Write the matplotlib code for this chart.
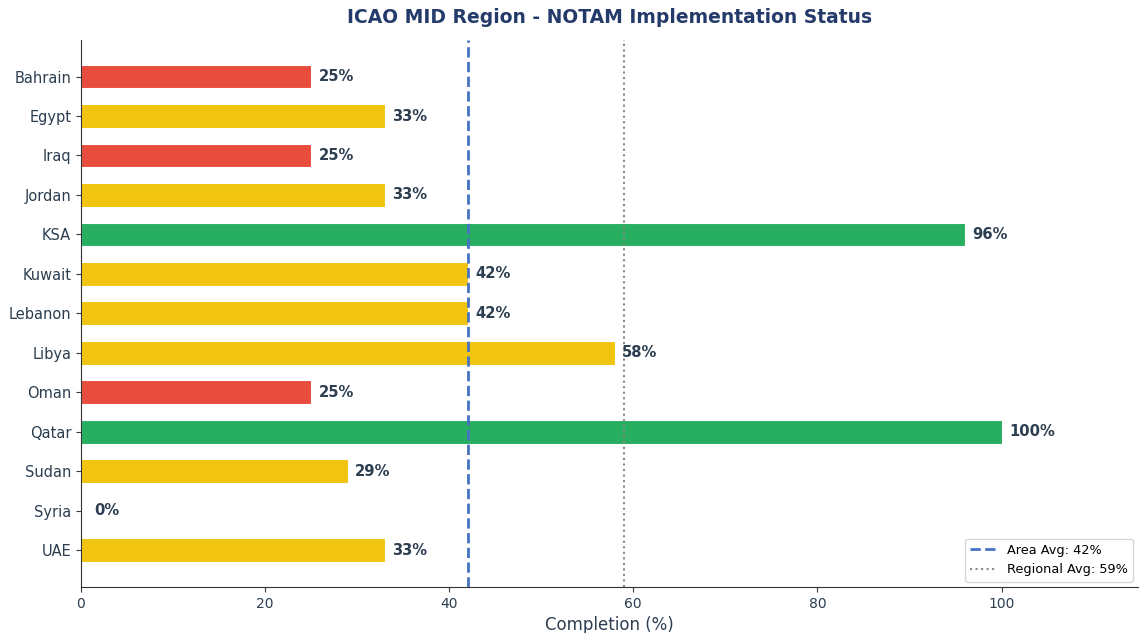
import matplotlib
matplotlib.use('Agg')
import matplotlib.pyplot as plt

countries = ['Bahrain', 'Egypt', 'Iraq', 'Jordan', 'KSA', 'Kuwait', 'Lebanon',
             'Libya', 'Oman', 'Qatar', 'Sudan', 'Syria', 'UAE']
completion = [25, 33, 25, 33, 96, 42, 42, 58, 25, 100, 29, 0, 33]
area_avg = 42
regional_avg = 59

def bar_color(v):
    if v >= 80:
        return '#27ae60'
    if v >= 29 or v == 0:
        return '#f1c40f'
    return '#e74c3c'

colors = [bar_color(v) for v in completion]
text_color = '#2c3e50'

fig, ax = plt.subplots(figsize=(11.39, 6.33), dpi=100)
fig.subplots_adjust(left=0.071, right=0.999, top=0.937, bottom=0.073)

y = list(range(len(countries)))
ax.barh(y, completion, height=0.6, color=colors, edgecolor='white', linewidth=0.8)
ax.invert_yaxis()

for yi, v in zip(y, completion):
    x = v + 0.8 if v > 0 else 1.5
    ax.text(x, yi, f'{v}%', va='center', ha='left', fontsize=10.6,
            fontweight='bold', color=text_color)

ax.axvline(area_avg, color='#4472c4', linestyle='--', linewidth=2,
           label=f'Area Avg: {area_avg}%')
ax.axvline(regional_avg, color='#888888', linestyle=':', linewidth=1.5,
           label=f'Regional Avg: {regional_avg}%')

ax.set_yticks(y)
ax.set_yticklabels(countries, fontsize=10.5, color=text_color)
ax.tick_params(axis='x', labelsize=10, colors=text_color)
ax.tick_params(axis='y', colors=text_color)
ax.set_xlim(0, 114.8)
ax.set_xlabel('Completion (%)', fontsize=12, color=text_color)
ax.set_title('ICAO MID Region - NOTAM Implementation Status', fontsize=13.5,
             fontweight='bold', color='#243a6a', pad=12)

ax.spines['top'].set_visible(False)
ax.spines['right'].set_visible(False)
ax.spines['left'].set_color('#333333')
ax.spines['bottom'].set_color('#333333')

ax.legend(loc='lower right', fontsize=9.3, borderaxespad=0.4)

fig.savefig('out.png', dpi=100)
